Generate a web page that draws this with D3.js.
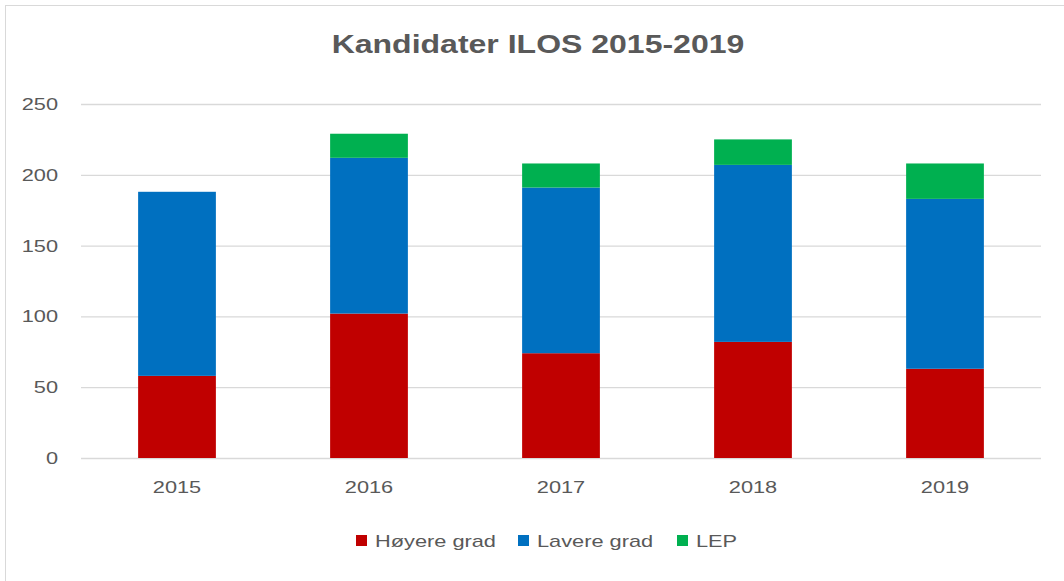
<!DOCTYPE html>
<html>
<head>
<meta charset="utf-8">
<script src="https://cdn.jsdelivr.net/npm/d3@7"></script>
<style>
  body { margin: 0; background: #fff; }
  svg { font-family: "Liberation Sans", Arial, sans-serif; }
</style>
</head>
<body>
<svg width="1064" height="581"></svg>
<script>
var years = ["2015", "2016", "2017", "2018", "2019"];
var hoyere = [58, 102, 74, 82, 63];
var lavere = [130, 110, 117, 125, 120];
var lep = [0, 17, 17, 18, 25];
var seriesNames = ["Høyere grad", "Lavere grad", "LEP"];
var seriesColors = ["#C00000", "#0070C0", "#00B050"];
var yTicks = [0, 50, 100, 150, 200, 250];

var rows = years.map(function(y, i) {
  return { year: y, "Høyere grad": hoyere[i], "Lavere grad": lavere[i], "LEP": lep[i] };
});

// the original text looks wider than normal, stretch it a bit
var stretchK = 1.28;
function stretch(sel) {
  sel.each(function() {
    var w = this.getComputedTextLength();
    d3.select(this).attr("textLength", w * stretchK).attr("lengthAdjust", "spacingAndGlyphs");
  });
}

var svg = d3.select("svg");
var margin = { top: 104, left: 81, right: 23, bottom: 123 };
var width = 1064 - margin.left - margin.right;
var height = 581 - margin.top - margin.bottom;

// chart frame
svg.append("rect")
  .attr("x", 5.5).attr("y", 5.5)
  .attr("width", 1070).attr("height", 590)
  .attr("fill", "none")
  .attr("stroke", "#d9d9d9");

svg.append("text")
  .attr("x", 538).attr("y", 53)
  .attr("text-anchor", "middle")
  .attr("font-size", 25)
  .attr("font-weight", "bold")
  .attr("fill", "#595959")
  .text("Kandidater ILOS 2015-2019")
  .call(stretch);

var g = svg.append("g")
  .attr("transform", "translate(" + margin.left + "," + margin.top + ")");

var x = d3.scaleBand().domain(years).range([0, width]).paddingInner(0.595).paddingOuter(0.2975);
var y = d3.scaleLinear().domain([0, 250]).range([height, 0]);

// gridlines
g.append("g")
  .call(d3.axisLeft(y).tickValues(yTicks).tickSize(-width).tickPadding(23))
  .call(function(a) { a.select(".domain").remove(); })
  .call(function(a) {
    a.selectAll("line").attr("stroke", "#d9d9d9").attr("stroke-width", 1.3);
    a.selectAll("text").attr("fill", "#595959").attr("font-size", 17)
      .attr("font-family", "Liberation Sans, Arial, sans-serif")
      .call(stretch);
  });

var stack = d3.stack().keys(seriesNames);
var layers = stack(rows);

g.selectAll(".layer")
  .data(layers)
  .join("g")
  .attr("fill", function(d, i) { return seriesColors[i]; })
  .selectAll("rect")
  .data(function(d) { return d; })
  .join("rect")
  .attr("x", function(d) { return x(d.data.year); })
  .attr("y", function(d) { return y(d[1]); })
  .attr("width", x.bandwidth())
  .attr("height", function(d) { return y(d[0]) - y(d[1]); });

g.append("g")
  .attr("transform", "translate(0," + height + ")")
  .call(d3.axisBottom(x).tickSize(0).tickPadding(23))
  .call(function(a) { a.select(".domain").remove(); })
  .call(function(a) {
    a.selectAll("text").attr("fill", "#595959").attr("font-size", 17)
      .attr("font-family", "Liberation Sans, Arial, sans-serif")
      .call(stretch);
  });

// legend
var legendX = [356, 518, 677];
var legend = svg.append("g");
seriesNames.forEach(function(name, i) {
  legend.append("rect")
    .attr("x", legendX[i]).attr("y", 535)
    .attr("width", 11).attr("height", 11)
    .attr("fill", seriesColors[i]);
  legend.append("text")
    .attr("x", legendX[i] + 19).attr("y", 547)
    .attr("font-size", 17)
    .attr("fill", "#595959")
    .text(name)
    .call(stretch);
});
</script>
</body>
</html>
